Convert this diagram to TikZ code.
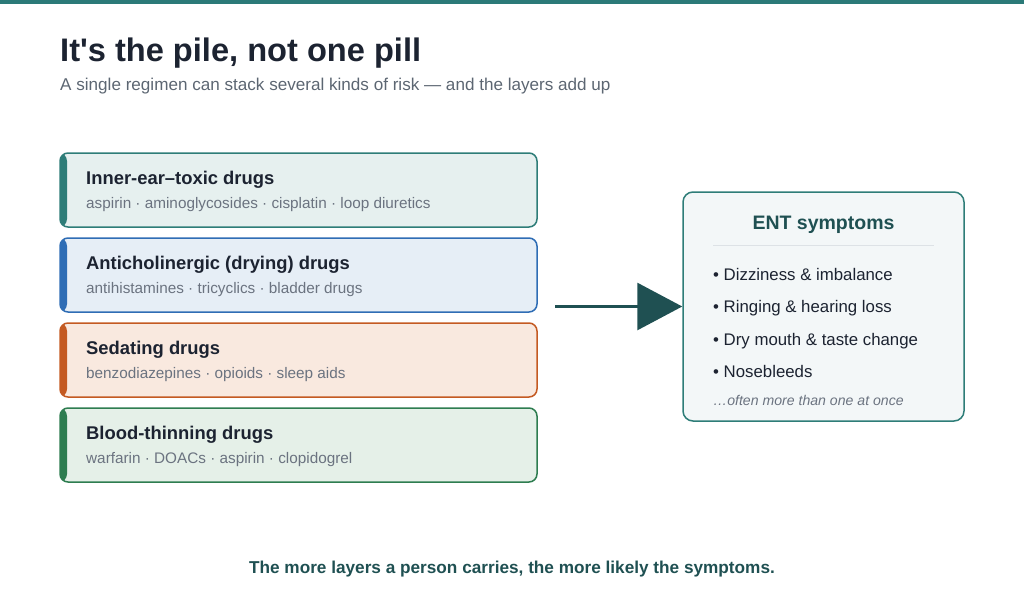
\documentclass[tikz,border=0pt]{standalone}
\usepackage{fontspec}
\setmainfont{Liberation Sans}
\usetikzlibrary{arrows.meta}

\definecolor{topbar}{HTML}{2B7A78}
\definecolor{inkdark}{HTML}{1C2331}
\definecolor{subgray}{HTML}{5C6672}
\definecolor{drugsgray}{HTML}{6B7380}
\definecolor{otoline}{HTML}{2E7D78}
\definecolor{otofill}{HTML}{E6F0EF}
\definecolor{antiline}{HTML}{2F6DB5}
\definecolor{antifill}{HTML}{E6EEF6}
\definecolor{sedline}{HTML}{C45A22}
\definecolor{sedfill}{HTML}{F9E9DF}
\definecolor{bloodline}{HTML}{2E7D50}
\definecolor{bloodfill}{HTML}{E5F0E8}
\definecolor{entline}{HTML}{2E7D78}
\definecolor{entfill}{HTML}{F3F7F8}
\definecolor{entink}{HTML}{1F5052}
\definecolor{sepgray}{HTML}{DDE2E6}

\tikzset{
  druglayer/.style 2 args={draw=#1, fill=#2, line width=1.5pt, rounded corners=8pt,
    minimum width=477pt, minimum height=74pt, inner sep=0pt,
    path picture={\fill[#1] (path picture bounding box.north west) rectangle ([xshift=7pt]path picture bounding box.south west);}},
  layertitle/.style={anchor=base west, inner sep=0pt, text=inkdark, font=\fontsize{18.4}{22}\selectfont\bfseries},
  layerdrugs/.style={anchor=base west, inner sep=0pt, text=drugsgray, font=\fontsize{15.3}{18}\selectfont},
  symptom/.style={anchor=base west, inner sep=0pt, text=inkdark, font=\fontsize{16.8}{20}\selectfont},
}

\begin{document}
\begin{tikzpicture}[x=1pt,y=-1pt]
\useasboundingbox (0,0) rectangle (1024,597);

% Top strip
\fill[topbar] (0,0) rectangle (1024,4);

% Heading
\node[anchor=base west, inner sep=0pt, text=inkdark, font=\fontsize{32.6}{38}\selectfont\bfseries] (title) at (60,61) {It\textquotesingle s the pile, not one pill};
\node[anchor=base west, inner sep=0pt, text=subgray, font=\fontsize{17.1}{20}\selectfont] (subtitle) at (60,90) {A single regimen can stack several kinds of risk — and the layers add up};

% Drug layers
\node[druglayer={otoline}{otofill}] (oto) at (298.5,190) {};
\node[layertitle] (oto-title) at (86,184) {Inner-ear–toxic drugs};
\node[layerdrugs] (oto-drugs) at (86,208) {aspirin · aminoglycosides · cisplatin · loop diuretics};

\node[druglayer={antiline}{antifill}] (anti) at (298.5,275) {};
\node[layertitle] (anti-title) at (86,269) {Anticholinergic (drying) drugs};
\node[layerdrugs] (anti-drugs) at (86,293) {antihistamines · tricyclics · bladder drugs};

\node[druglayer={sedline}{sedfill}] (sed) at (298.5,360) {};
\node[layertitle] (sed-title) at (86,354) {Sedating drugs};
\node[layerdrugs] (sed-drugs) at (86,378) {benzodiazepines · opioids · sleep aids};

\node[druglayer={bloodline}{bloodfill}] (blood) at (298.5,445) {};
\node[layertitle] (blood-title) at (86,439) {Blood-thinning drugs};
\node[layerdrugs] (blood-drugs) at (86,463) {warfarin · DOACs · aspirin · clopidogrel};

% Symptoms box
\node[draw=entline, fill=entfill, line width=1.5pt, rounded corners=10pt, minimum width=281pt, minimum height=229pt] (ent) at (823.5,306.5) {};
\node[anchor=base, inner sep=0pt, text=entink, font=\fontsize{19.5}{23}\selectfont\bfseries] (ent-title) at (823.5,229) {ENT symptoms};
\coordinate (sep-l) at (713,245);
\coordinate (sep-r) at (934,245);
\draw[sepgray, line width=1pt] (sep-l) -- (sep-r);
\node[symptom] (sym1) at (713,280) {• Dizziness \& imbalance};
\node[symptom] (sym2) at (713,312) {• Ringing \& hearing loss};
\node[symptom] (sym3) at (713,345) {• Dry mouth \& taste change};
\node[symptom] (sym4) at (713,377) {• Nosebleeds};
\node[anchor=base west, inner sep=0pt, text=drugsgray, font=\fontsize{14.1}{17}\selectfont\itshape] (often) at (713,405) {…often more than one at once};

% Arrow
\coordinate (arrowtail) at (555,306.5);
\draw[entink, line width=3pt, -{Triangle[length=45pt,width=47pt]}] (arrowtail) -- (ent.west);

% Footer
\node[anchor=base, inner sep=0pt, text=entink, font=\fontsize{17.2}{20}\selectfont\bfseries] (footer) at (512,573) {The more layers a person carries, the more likely the symptoms.};

\end{tikzpicture}
\end{document}
